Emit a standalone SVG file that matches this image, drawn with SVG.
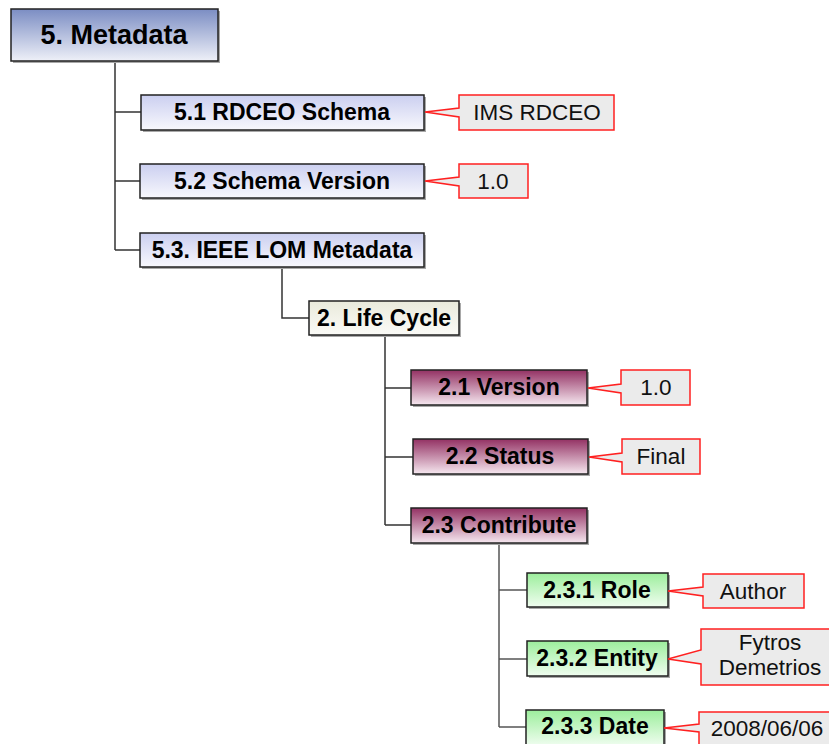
<svg xmlns="http://www.w3.org/2000/svg" width="829" height="744" viewBox="0 0 829 744">
  <defs>
    <linearGradient id="gRoot" x1="0" y1="0" x2="0" y2="1">
      <stop offset="0" stop-color="#7b8dc3"/>
      <stop offset="1" stop-color="#eef0f8"/>
    </linearGradient>
    <linearGradient id="gBlue" x1="0" y1="0" x2="0" y2="1">
      <stop offset="0" stop-color="#cbcff0"/>
      <stop offset="1" stop-color="#f8f8fd"/>
    </linearGradient>
    <linearGradient id="gBeige" x1="0" y1="0" x2="0" y2="1">
      <stop offset="0" stop-color="#e9eadb"/>
      <stop offset="1" stop-color="#fbfbf7"/>
    </linearGradient>
    <linearGradient id="gMaroon" x1="0" y1="0" x2="0" y2="1">
      <stop offset="0" stop-color="#933163"/>
      <stop offset="1" stop-color="#f6e8f0"/>
    </linearGradient>
    <linearGradient id="gGreen" x1="0" y1="0" x2="0" y2="1">
      <stop offset="0" stop-color="#9cee9c"/>
      <stop offset="1" stop-color="#f0fdf0"/>
    </linearGradient>
  </defs>
  <style>
    .box { stroke: #222; stroke-width: 1.5; }
    .shadow { fill: #a8a8a8; }
    .lbl { font-family: "Liberation Sans", Arial, sans-serif; font-weight: bold; font-size: 23px; fill: #000; text-anchor: middle; }
    .root { font-size: 27px; }
    .call { fill: #ebebeb; stroke: #ff2020; stroke-width: 1.5; }
    .ctext { font-family: "Liberation Sans", Arial, sans-serif; font-size: 22.5px; fill: #111; text-anchor: middle; }
    .conn { stroke: #333; stroke-width: 1.5; fill: none; }
    .conn2 { stroke: #555; stroke-width: 1.5; fill: none; }
  </style>

  <g id="connectors">
    <path class="conn" d="M115 62 V250 M115 112 H141 M115 181 H140 M115 250 H140"/>
    <path class="conn" d="M282 267 V318 H309"/>
    <path class="conn" d="M385 335 V525 M385 388 H411 M385 457 H413 M385 525 H411"/>
    <path class="conn2" d="M499 543 V727 M499 590 H527 M499 659 H527 M499 727 H526"/>
  </g>

  <g id="n-root">
    <rect class="shadow" x="13" y="11" width="207" height="52"/>
    <rect class="box" x="11" y="9" width="207" height="52" fill="url(#gRoot)"/>
    <text class="lbl root" x="114" y="44">5. Metadata</text>
  </g>

  <g id="n-5-1">
    <rect class="shadow" x="143" y="97" width="283" height="35"/>
    <rect class="box" x="141" y="95" width="283" height="35" fill="url(#gBlue)"/>
    <text class="lbl" x="282" y="120">5.1 RDCEO Schema</text>
  </g>
  <g id="c-5-1">
    <polygon class="call" points="459,95 614,95 614,130 459,130 459,117 425,112 459,108"/>
    <text class="ctext" x="537" y="120">IMS RDCEO</text>
  </g>

  <g id="n-5-2">
    <rect class="shadow" x="142" y="166" width="284" height="34"/>
    <rect class="box" x="140" y="164" width="284" height="34" fill="url(#gBlue)"/>
    <text class="lbl" x="282" y="189">5.2 Schema Version</text>
  </g>
  <g id="c-5-2">
    <polygon class="call" points="459,164 528,164 528,198 459,198 459,186 425,181 459,177"/>
    <text class="ctext" x="493" y="189">1.0</text>
  </g>

  <g id="n-5-3">
    <rect class="shadow" x="142" y="235" width="284" height="34"/>
    <rect class="box" x="140" y="233" width="284" height="34" fill="url(#gBlue)"/>
    <text class="lbl" x="282" y="258">5.3. IEEE LOM Metadata</text>
  </g>

  <g id="n-lifecycle">
    <rect class="shadow" x="311" y="303" width="150" height="34"/>
    <rect class="box" x="309" y="301" width="150" height="34" fill="url(#gBeige)"/>
    <text class="lbl" x="384" y="326">2. Life Cycle</text>
  </g>

  <g id="n-2-1">
    <rect class="shadow" x="413" y="372" width="176" height="35"/>
    <rect class="box" x="411" y="370" width="176" height="35" fill="url(#gMaroon)"/>
    <text class="lbl" x="499" y="395">2.1 Version</text>
  </g>
  <g id="c-2-1">
    <polygon class="call" points="621,370 690,370 690,405 621,405 621,393 588,388 621,384"/>
    <text class="ctext" x="656" y="395">1.0</text>
  </g>

  <g id="n-2-2">
    <rect class="shadow" x="415" y="441" width="175" height="35"/>
    <rect class="box" x="413" y="439" width="175" height="35" fill="url(#gMaroon)"/>
    <text class="lbl" x="500" y="464">2.2 Status</text>
  </g>
  <g id="c-2-2">
    <polygon class="call" points="622,439 700,439 700,474 622,474 622,462 589,457 622,453"/>
    <text class="ctext" x="661" y="464">Final</text>
  </g>

  <g id="n-2-3">
    <rect class="shadow" x="413" y="510" width="176" height="35"/>
    <rect class="box" x="411" y="508" width="176" height="35" fill="url(#gMaroon)"/>
    <text class="lbl" x="499" y="533">2.3 Contribute</text>
  </g>

  <g id="n-2-3-1">
    <rect class="shadow" x="529" y="575" width="141" height="34"/>
    <rect class="box" x="527" y="573" width="141" height="34" fill="url(#gGreen)"/>
    <text class="lbl" x="597" y="598">2.3.1 Role</text>
  </g>
  <g id="c-2-3-1">
    <polygon class="call" points="703,574 804,574 804,608 703,608 703,596 668,591 703,587"/>
    <text class="ctext" x="753" y="599">Author</text>
  </g>

  <g id="n-2-3-2">
    <rect class="shadow" x="529" y="643" width="141" height="35"/>
    <rect class="box" x="527" y="641" width="141" height="35" fill="url(#gGreen)"/>
    <text class="lbl" x="597" y="666">2.3.2 Entity</text>
  </g>
  <g id="c-2-3-2">
    <polygon class="call" points="701,629 839,629 839,685 701,685 701,664 668,659 701,650"/>
    <text class="ctext" x="770" y="650">Fytros</text>
    <text class="ctext" x="770" y="675">Demetrios</text>
  </g>

  <g id="n-2-3-3">
    <rect class="shadow" x="528" y="712" width="138" height="36"/>
    <rect class="box" x="526" y="710" width="138" height="36" fill="url(#gGreen)"/>
    <text class="lbl" x="595" y="734">2.3.3 Date</text>
  </g>
  <g id="c-2-3-3">
    <polygon class="call" points="699,712 836,712 836,750 699,750 699,732 664,728 699,724"/>
    <text class="ctext" x="767" y="736">2008/06/06</text>
  </g>
</svg>
